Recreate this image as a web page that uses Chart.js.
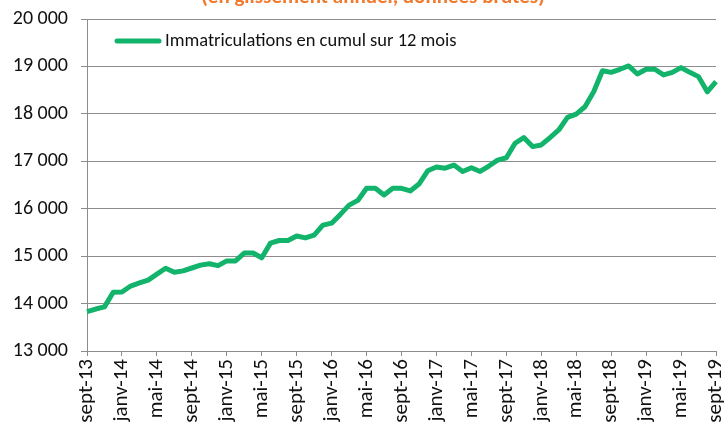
<!DOCTYPE html>
<html>
<head>
<meta charset="utf-8">
<script src="https://cdn.jsdelivr.net/npm/chart.js@4/dist/chart.umd.min.js"></script>
<style>
  body { margin: 0; background: #fff; }
  #wrap { position: relative; width: 724px; height: 425px; }
</style>
</head>
<body>
<div id="wrap"><canvas id="immatChart"></canvas></div>
<script>
const months = [
  'sept-13', 'oct-13', 'nov-13', 'déc-13',
  'janv-14', 'févr-14', 'mars-14', 'avr-14', 'mai-14', 'juin-14', 'juil-14', 'août-14', 'sept-14', 'oct-14', 'nov-14', 'déc-14',
  'janv-15', 'févr-15', 'mars-15', 'avr-15', 'mai-15', 'juin-15', 'juil-15', 'août-15', 'sept-15', 'oct-15', 'nov-15', 'déc-15',
  'janv-16', 'févr-16', 'mars-16', 'avr-16', 'mai-16', 'juin-16', 'juil-16', 'août-16', 'sept-16', 'oct-16', 'nov-16', 'déc-16',
  'janv-17', 'févr-17', 'mars-17', 'avr-17', 'mai-17', 'juin-17', 'juil-17', 'août-17', 'sept-17', 'oct-17', 'nov-17', 'déc-17',
  'janv-18', 'févr-18', 'mars-18', 'avr-18', 'mai-18', 'juin-18', 'juil-18', 'août-18', 'sept-18', 'oct-18', 'nov-18', 'déc-18',
  'janv-19', 'févr-19', 'mars-19', 'avr-19', 'mai-19', 'juin-19', 'juil-19', 'août-19', 'sept-19'
];

const cumul12 = [
  13830, 13885, 13930, 14240,
  14245, 14370, 14435, 14495, 14620, 14745, 14660, 14690, 14750, 14810, 14840, 14800,
  14900, 14900, 15065, 15065, 14965, 15275, 15330, 15330, 15425, 15385, 15445, 15655,
  15695, 15880, 16075, 16175, 16430, 16430, 16290, 16430, 16430, 16375, 16520, 16800,
  16880, 16855, 16920, 16785, 16865, 16785, 16900, 17025, 17075, 17380, 17500, 17310,
  17345, 17500, 17660, 17925, 17995, 18150, 18465, 18910, 18875, 18940, 19010, 18840,
  18940, 18940, 18820, 18875, 18975, 18875, 18785, 18465, 18680
];

const seriesLabel = 'Immatriculations en cumul sur 12 mois';
const titleText = '(en glissement annuel, données brutes)';

const FONT = 'Carlito, Lato, sans-serif';
const GREEN = '#12b36a';
const GRID = '#8c8c8c';
const INK = '#111';

// title is cut off by the top edge in the original, only its lower part shows
const titlePlugin = {
  id: 'cutTitle',
  afterDraw(chart) {
    const ctx = chart.ctx;
    ctx.save();
    ctx.font = 'bold 21px ' + FONT;
    ctx.fillStyle = '#f07b2e';
    ctx.textAlign = 'center';
    ctx.fillText(titleText, 373, 3);
    ctx.restore();
  }
};

// legend sits inside the plot, top left
const innerLegend = {
  id: 'innerLegend',
  afterDraw(chart) {
    const ctx = chart.ctx;
    const ds = chart.data.datasets[0];
    ctx.save();
    ctx.strokeStyle = ds.borderColor;
    ctx.lineWidth = 5;
    ctx.lineCap = 'round';
    ctx.beginPath();
    ctx.moveTo(117, 41);
    ctx.lineTo(159, 41);
    ctx.stroke();
    ctx.font = '18.5px ' + FONT;
    ctx.fillStyle = INK;
    ctx.textBaseline = 'middle';
    ctx.fillText(ds.label, 165, 41);
    ctx.restore();
  }
};

new Chart(document.getElementById('immatChart'), {
  type: 'line',
  data: {
    labels: months,
    datasets: [{
      label: seriesLabel,
      data: cumul12,
      borderColor: GREEN,
      backgroundColor: GREEN,
      borderWidth: 5,
      borderJoinStyle: 'round',
      pointRadius: 0,
      tension: 0
    }]
  },
  options: {
    responsive: true,
    maintainAspectRatio: false,
    animation: false,
    layout: { padding: { top: 19, right: 8, left: 0, bottom: 0 } },
    plugins: {
      legend: { display: false },
      tooltip: { enabled: false }
    },
    scales: {
      x: {
        offset: false,
        afterFit: (s) => { s.height = 74; s.paddingLeft = 0; s.paddingRight = 0; },
        border: { color: GRID, width: 1 },
        grid: {
          drawOnChartArea: false,
          tickLength: 5,
          color: (c) => (c.index % 4 === 0 ? GRID : 'rgba(0,0,0,0)')
        },
        ticks: {
          autoSkip: false,
          maxRotation: 90,
          minRotation: 90,
          padding: 3,
          color: INK,
          font: { family: FONT, size: 21 },
          callback: function (v, i) { return i % 4 === 0 ? this.getLabelForValue(v) : ''; }
        }
      },
      y: {
        min: 13000,
        max: 20000,
        afterFit: (s) => { s.width = 87; s.paddingTop = 0; s.paddingBottom = 0; },
        border: { color: GRID, width: 1 },
        grid: { color: GRID, tickLength: 6 },
        ticks: {
          stepSize: 1000,
          padding: 13,
          color: INK,
          font: { family: FONT, size: 20 },
          callback: (v) => String(v).replace(/\B(?=(\d{3})+(?!\d))/g, ' ')
        }
      }
    }
  },
  plugins: [titlePlugin, innerLegend]
});
</script>
</body>
</html>
